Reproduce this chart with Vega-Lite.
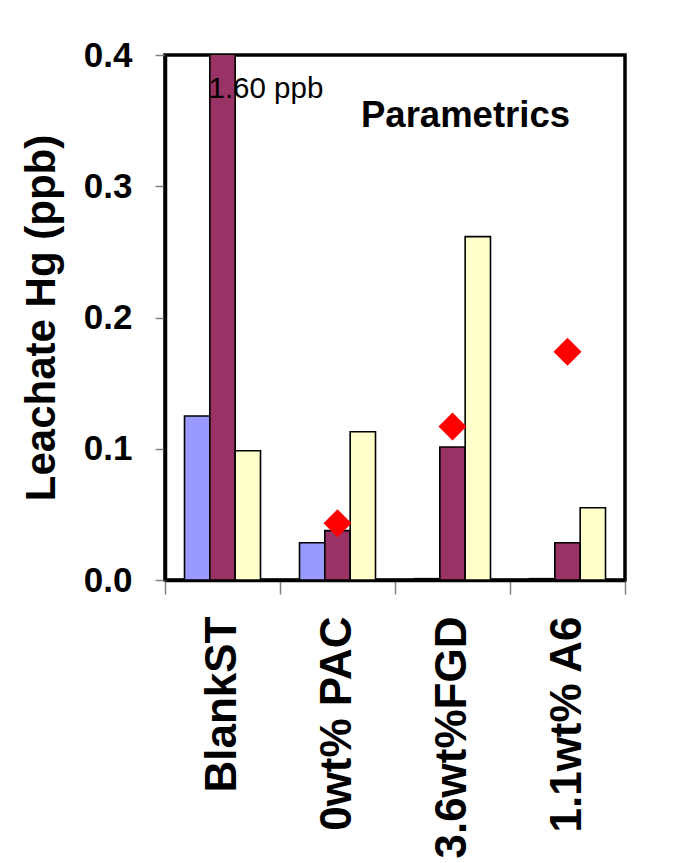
{
  "$schema": "https://vega.github.io/schema/vega-lite/v6.json",
  "autosize": "none",
  "width": 460,
  "height": 525,
  "padding": {"left": 165, "top": 55, "right": 49, "bottom": 283},
  "background": "white",
  "config": {
    "font": "Liberation Sans",
    "view": {"stroke": "black", "strokeWidth": 3.5}
  },
  "datasets": {
    "bars": [
      {"sample": "BlankST", "series": "Test 1", "hg": 0.125},
      {"sample": "BlankST", "series": "Test 2", "hg": 1.6},
      {"sample": "BlankST", "series": "Test 3", "hg": 0.0985},
      {"sample": "0wt% PAC", "series": "Test 1", "hg": 0.0284},
      {"sample": "0wt% PAC", "series": "Test 2", "hg": 0.0376},
      {"sample": "0wt% PAC", "series": "Test 3", "hg": 0.113},
      {"sample": "3.6wt%FGD", "series": "Test 1", "hg": 0.001},
      {"sample": "3.6wt%FGD", "series": "Test 2", "hg": 0.1013},
      {"sample": "3.6wt%FGD", "series": "Test 3", "hg": 0.2616},
      {"sample": "1.1wt% A6", "series": "Test 1", "hg": 0.001},
      {"sample": "1.1wt% A6", "series": "Test 2", "hg": 0.0284},
      {"sample": "1.1wt% A6", "series": "Test 3", "hg": 0.0551}
    ],
    "diamonds": [
      {"sample": "0wt% PAC", "series": "Test 2", "hg": 0.0432},
      {"sample": "3.6wt%FGD", "series": "Test 2", "hg": 0.117},
      {"sample": "1.1wt% A6", "series": "Test 2", "hg": 0.174}
    ],
    "note": [
      {"sample": "BlankST", "series": "Test 2", "hg": 0.367, "label": "1.60 ppb"}
    ],
    "heading": [
      {"sample": "3.6wt%FGD", "hg": 0.3454, "label": "Parametrics"}
    ]
  },
  "layer": [
    {
      "data": {"name": "bars"},
      "mark": {"type": "bar", "stroke": "black", "strokeWidth": 1.6, "clip": true},
      "encoding": {
        "x": {
          "field": "sample",
          "type": "nominal",
          "sort": ["BlankST", "0wt% PAC", "3.6wt%FGD", "1.1wt% A6"],
          "scale": {"paddingInner": 0, "paddingOuter": 0},
          "axis": {
            "title": null,
            "labelAngle": -90,
            "labelFontSize": 44,
            "labelFontWeight": "bold",
            "labelColor": "black",
            "labelLimit": 0,
            "labelPadding": 22,
            "tickBand": "extent",
            "tickSize": 14,
            "tickColor": "#808080",
            "tickWidth": 1.5,
            "domainColor": "black",
            "domainWidth": 3.5,
            "grid": false
          }
        },
        "xOffset": {
          "field": "series",
          "type": "nominal",
          "scale": {"paddingInner": 0, "paddingOuter": 0.77}
        },
        "y": {
          "field": "hg",
          "type": "quantitative",
          "scale": {"domain": [0, 0.4], "nice": false},
          "axis": {
            "title": "Leachate Hg (ppb)",
            "titleFontSize": 42,
            "titleFontWeight": "bold",
            "titleColor": "black",
            "titlePadding": 20,
            "values": [0, 0.1, 0.2, 0.3, 0.4],
            "format": ".1f",
            "labelFontSize": 35,
            "labelFontWeight": "bold",
            "labelColor": "black",
            "labelPadding": 23,
            "tickSize": 10,
            "tickColor": "#808080",
            "tickWidth": 1.5,
            "domainColor": "black",
            "domainWidth": 3.5,
            "grid": false
          }
        },
        "color": {
          "field": "series",
          "type": "nominal",
          "scale": {"domain": ["Test 1", "Test 2", "Test 3"], "range": ["#9999FF", "#993366", "#FFFFCC"]},
          "legend": null
        }
      }
    },
    {
      "data": {"name": "diamonds"},
      "mark": {"type": "point", "shape": "diamond", "filled": true, "size": 784, "color": "#FF0000", "opacity": 1, "strokeWidth": 0},
      "encoding": {
        "x": {"field": "sample", "type": "nominal", "sort": ["BlankST", "0wt% PAC", "3.6wt%FGD", "1.1wt% A6"]},
        "xOffset": {"field": "series", "type": "nominal"},
        "y": {"field": "hg", "type": "quantitative"}
      }
    },
    {
      "data": {"name": "note"},
      "mark": {"type": "text", "align": "left", "baseline": "alphabetic", "dx": -14, "fontSize": 29.5, "color": "black"},
      "encoding": {
        "x": {"field": "sample", "type": "nominal", "sort": ["BlankST", "0wt% PAC", "3.6wt%FGD", "1.1wt% A6"]},
        "xOffset": {"field": "series", "type": "nominal"},
        "y": {"field": "hg", "type": "quantitative"},
        "text": {"field": "label"}
      }
    },
    {
      "data": {"name": "heading"},
      "mark": {"type": "text", "align": "center", "baseline": "alphabetic", "dx": 13, "fontSize": 36.5, "fontWeight": "bold", "color": "black"},
      "encoding": {
        "x": {"field": "sample", "type": "nominal", "sort": ["BlankST", "0wt% PAC", "3.6wt%FGD", "1.1wt% A6"]},
        "y": {"field": "hg", "type": "quantitative"},
        "text": {"field": "label"}
      }
    }
  ]
}
